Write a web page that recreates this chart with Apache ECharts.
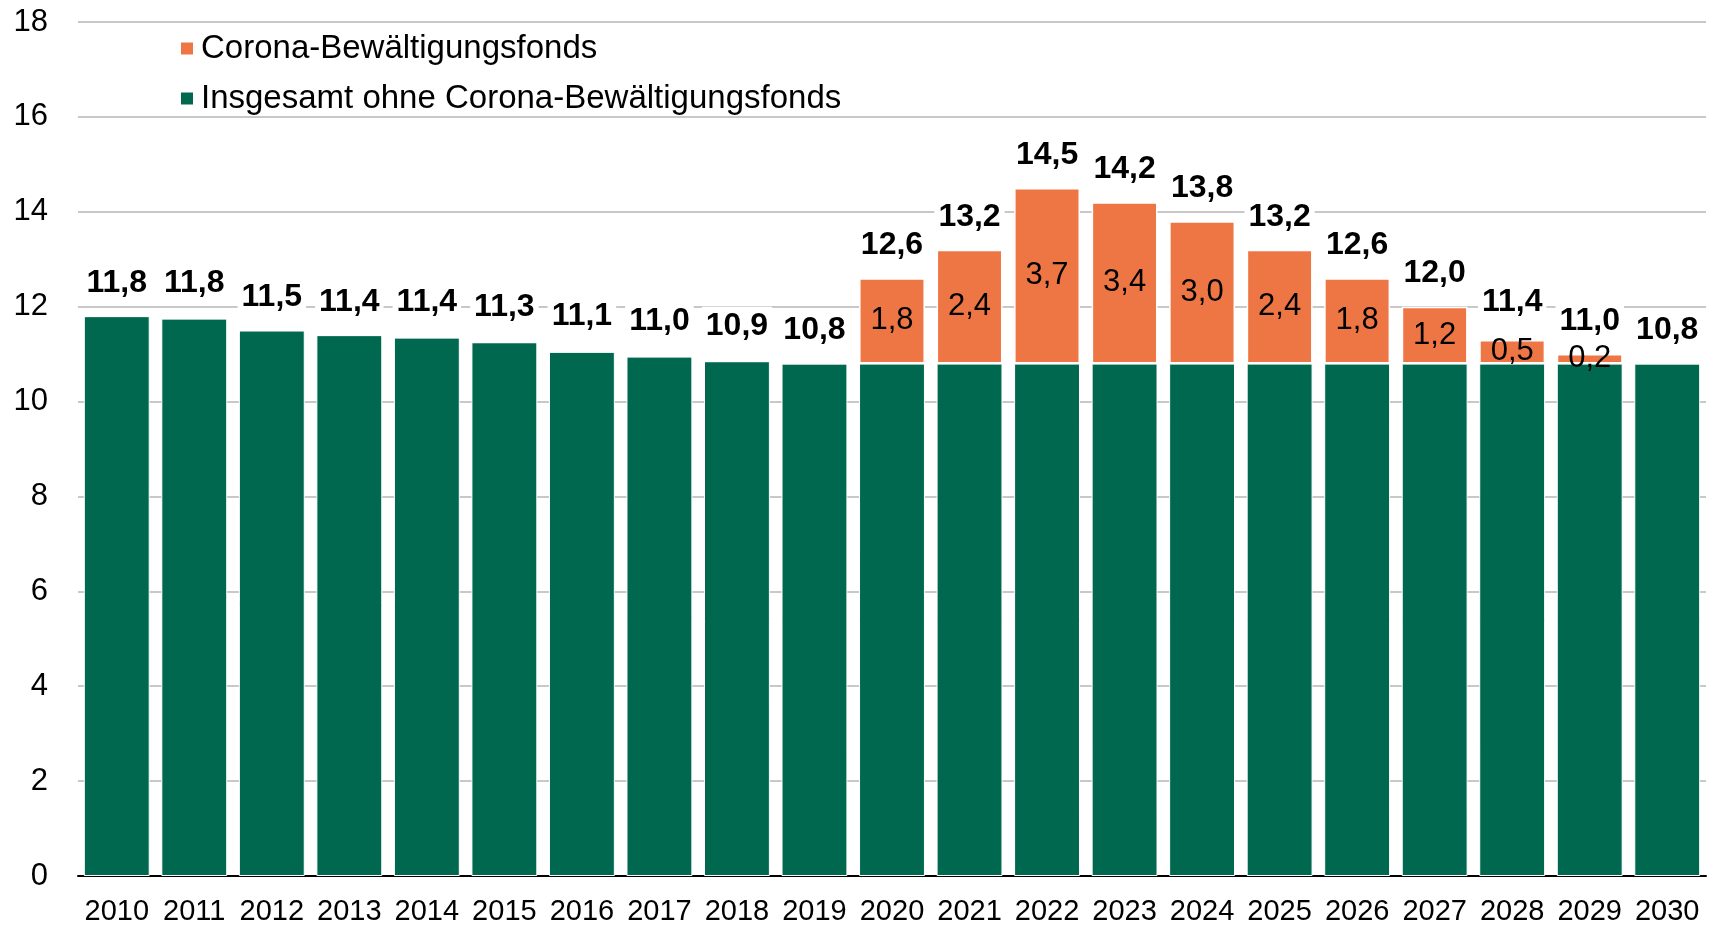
<!DOCTYPE html>
<html>
<head>
<meta charset="utf-8">
<script src="https://cdn.jsdelivr.net/npm/echarts@6/dist/echarts.min.js"></script>
<style>
  html, body { margin: 0; padding: 0; background: #fff; }
  #container { width: 1719px; height: 927px; }
</style>
</head>
<body>
<div id="container"></div>
<script>
var years = ['2010', '2011', '2012', '2013', '2014', '2015', '2016', '2017', '2018', '2019', '2020',
    '2021', '2022', '2023', '2024', '2025', '2026', '2027', '2028', '2029', '2030'];
// Insgesamt ohne Corona-Bewältigungsfonds
var baseValues = [11.8, 11.75, 11.5, 11.4, 11.35, 11.25, 11.05, 10.95, 10.85, 10.8, 10.8,
    10.8, 10.8, 10.8, 10.8, 10.8, 10.8, 10.8, 10.8, 10.8, 10.8];
// Corona-Bewältigungsfonds
var coronaValues = [0, 0, 0, 0, 0, 0, 0, 0, 0, 0, 1.8,
    2.4, 3.7, 3.4, 3.0, 2.4, 1.8, 1.2, 0.5, 0.2, 0];
// printed totals above the bars
var totalValues = [11.8, 11.8, 11.5, 11.4, 11.4, 11.3, 11.1, 11.0, 10.9, 10.8, 12.6,
    13.2, 14.5, 14.2, 13.8, 13.2, 12.6, 12.0, 11.4, 11.0, 10.8];
var yTicks = [0, 2, 4, 6, 8, 10, 12, 14, 16, 18];

var GREEN = '#00684F';
var ORANGE = '#EE7644';
var FONT = 'Liberation Sans, Arial, sans-serif';

function fmt(v) {
    return v.toFixed(1).replace('.', ',');
}

var chartDom = document.getElementById('container');
var myChart = echarts.init(chartDom, null, { renderer: 'canvas' });

var option = {
    animation: false,
    textStyle: { fontFamily: FONT },
    grid: { left: 78, right: 13, top: 22, bottom: 51 },
    legend: {
        orient: 'vertical',
        left: 174,
        top: 27,
        itemWidth: 14,
        itemHeight: 14,
        itemGap: 17,
        icon: 'rect',
        data: ['Corona-Bewältigungsfonds', 'Insgesamt ohne Corona-Bewältigungsfonds'],
        textStyle: { fontSize: 33, color: '#000', fontFamily: FONT, lineHeight: 30, padding: [0, 0, 0, 2] }
    },
    xAxis: {
        type: 'category',
        data: years,
        axisLine: { lineStyle: { color: '#000', width: 2 } },
        axisTick: { show: false },
        axisLabel: { interval: 0, fontSize: 29, color: '#000', margin: 21, fontFamily: FONT }
    },
    yAxis: {
        type: 'value',
        min: yTicks[0],
        max: yTicks[yTicks.length - 1],
        interval: 2,
        axisLine: { show: false },
        axisTick: { show: false },
        splitLine: { lineStyle: { color: '#C8C8C8', width: 2 } },
        axisLabel: { fontSize: 31, color: '#000', margin: 30, fontFamily: FONT }
    },
    series: [
        {
            name: 'Insgesamt ohne Corona-Bewältigungsfonds',
            type: 'bar',
            stack: 'a',
            data: baseValues,
            barCategoryGap: '15%',
            itemStyle: { color: GREEN, borderColor: '#fff', borderWidth: 1 }
        },
        {
            name: 'Corona-Bewältigungsfonds',
            type: 'bar',
            stack: 'a',
            data: coronaValues,
            itemStyle: { color: ORANGE, borderColor: '#fff', borderWidth: 1.5 },
            label: {
                show: true,
                position: 'inside',
                fontSize: 31,
                color: '#000',
                fontFamily: FONT,
                formatter: function (p) { return p.value > 0 ? fmt(p.value) : ''; }
            }
        },
        {
            name: 'Summe',
            type: 'bar',
            data: totalValues,
            barGap: '-100%',
            barCategoryGap: '15%',
            silent: true,
            itemStyle: { color: 'rgba(0,0,0,0)' },
            label: {
                show: true,
                position: 'top',
                distance: 14,
                fontSize: 32,
                fontWeight: 'bold',
                color: '#000',
                fontFamily: FONT,
                backgroundColor: '#fff',
                padding: [3, 4, 3, 4],
                formatter: function (p) { return fmt(p.value); }
            }
        }
    ]
};

if (option && typeof option === 'object') {
    myChart.setOption(option);
}

window.addEventListener('resize', myChart.resize);
</script>
</body>
</html>
